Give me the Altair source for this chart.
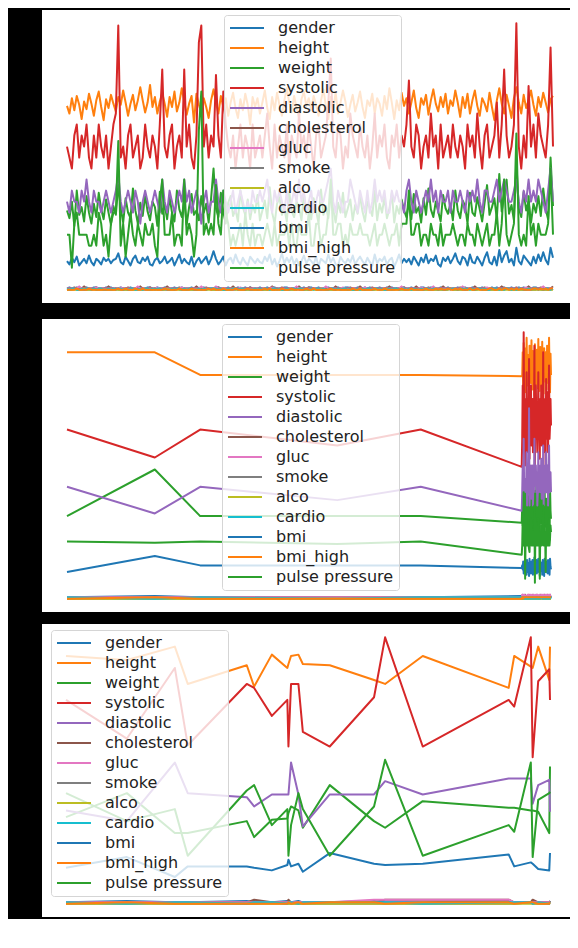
import altair as alt
import pandas as pd

names = ["gender", "height", "weight", "systolic", "diastolic", "cholesterol", "gluc",
         "smoke", "alco", "cardio", "bmi", "bmi_high", "pulse pressure"]
colors = ["#1f77b4", "#ff7f0e", "#2ca02c", "#d62728", "#9467bd", "#8c564b", "#e377c2",
          "#7f7f7f", "#bcbd22", "#17becf", "#1f77b4", "#ff7f0e", "#2ca02c"]


def digits(s):
    return [int(c) for c in "".join(s.split())]


# ---------------- panel 1 (200 consecutive rows) ----------------
height1 = [
    167, 160, 174, 163, 176, 168, 155, 171, 164, 178, 169, 158, 172, 180, 166, 154, 173, 165, 177, 169,
    162, 175, 168, 181, 170, 158, 169, 177, 163, 172, 184, 172, 161, 170, 186, 166, 175, 160, 171, 179,
    169, 157, 175, 166, 180, 162, 170, 183, 171, 159, 169, 176, 152, 178, 168, 161, 174, 166, 156, 172,
    182, 170, 160, 176, 166, 174, 158, 170, 179, 165, 156, 173, 163, 178, 168, 150, 175, 166, 174, 160,
    170, 181, 165, 155, 175, 163, 179, 168, 158, 172, 183, 170, 161, 176, 165, 156, 173, 180, 167, 174,
    163, 176, 168, 158, 172, 182, 167, 155, 175, 164, 179, 160, 170, 181, 171, 157, 168, 177, 162, 170,
    180, 166, 156, 172, 167, 178, 160, 174, 169, 158, 176, 164, 183, 170, 155, 172, 163, 179, 167, 174,
    160, 170, 181, 165, 156, 174, 168, 177, 159, 172, 182, 169, 162, 175, 166, 178, 160, 172, 167, 181,
    170, 157, 175, 165, 178, 160, 172, 181, 167, 158, 174, 169, 162, 179, 166, 154, 172, 183, 169, 160,
    177, 167, 156, 174, 184, 170, 160, 177, 165, 172, 181, 168, 158, 175, 166, 179, 170, 161, 173, 176]
systolic1 = [
    130, 120, 110, 140, 150, 120, 140, 130, 150, 120, 110, 140, 120, 150, 130, 120, 140, 110, 130, 150,
    160, 240, 120, 130, 110, 140, 150, 120, 130, 140, 110, 120, 150, 130, 120, 140, 130, 110, 150, 200,
    130, 120, 140, 150, 110, 130, 140, 120, 200, 130, 150, 120, 110, 140, 225, 240, 130, 150, 120, 140,
    130, 195, 140, 120, 180, 150, 130, 120, 140, 110, 130, 150, 120, 140, 130, 110, 150, 120, 130, 140,
    120, 140, 160, 130, 110, 150, 120, 140, 130, 120, 150, 110, 140, 130, 120, 160, 130, 140, 120, 150,
    130, 110, 140, 150, 120, 130, 140, 170, 210, 130, 120, 150, 140, 110, 130, 120, 160, 140, 130, 120,
    150, 130, 120, 140, 110, 130, 160, 120, 140, 130, 150, 120, 110, 140, 130, 150, 120, 140, 130, 150,
    190, 130, 120, 150, 140, 110, 130, 140, 120, 160, 130, 140, 110, 150, 120, 130, 140, 120, 150, 130,
    120, 140, 130, 110, 150, 130, 140, 120, 160, 130, 110, 140, 150, 120, 130, 140, 170, 120, 150, 200,
    140, 120, 130, 150, 242, 130, 110, 140, 120, 185, 130, 150, 120, 160, 140, 130, 120, 150, 220, 130]
diastolic1 = [
    80, 70, 90, 80, 80, 70, 90, 80, 100, 80, 70, 90, 80, 80, 70, 80, 90, 80, 70, 80,
    90, 105, 80, 70, 80, 90, 80, 70, 90, 80, 60, 80, 90, 80, 70, 80, 90, 80, 70, 100,
    80, 70, 90, 80, 70, 80, 90, 80, 100, 80, 90, 70, 80, 90, 80, 60, 80, 90, 70, 80,
    80, 100, 80, 70, 90, 80, 70, 80, 90, 70, 80, 90, 80, 70, 80, 70, 90, 80, 80, 90,
    80, 90, 100, 80, 70, 90, 80, 90, 80, 70, 90, 70, 80, 90, 80, 100, 80, 90, 70, 80,
    90, 70, 80, 90, 80, 80, 90, 100, 110, 80, 70, 90, 80, 70, 80, 80, 100, 90, 80, 70,
    90, 80, 70, 90, 70, 80, 100, 80, 90, 80, 90, 70, 70, 90, 80, 90, 80, 80, 70, 90,
    100, 80, 70, 90, 80, 70, 80, 90, 80, 100, 80, 90, 70, 90, 80, 80, 90, 70, 90, 80,
    80, 90, 80, 70, 90, 80, 90, 80, 100, 80, 70, 90, 90, 80, 80, 90, 100, 80, 90, 100,
    90, 80, 80, 90, 100, 80, 70, 90, 80, 100, 80, 90, 80, 100, 90, 80, 70, 90, 110, 80]
pulse1 = [
    50, 50, 20, 60, 70, 50, 50, 50, 50, 40, 40, 50, 40, 70, 60, 40, 50, 30, 60, 70,
    70, 135, 40, 60, 30, 50, 70, 50, 40, 60, 50, 40, 60, 50, 50, 60, 40, 30, 80, 100,
    50, 50, 50, 70, 40, 50, 50, 40, 100, 50, 60, 50, 30, 50, 145, 180, 50, 60, 50, 60,
    50, 95, 60, 50, 90, 70, 60, 40, 50, 40, 50, 60, 40, 70, 50, 40, 60, 40, 50, 50,
    40, 50, 60, 50, 40, 60, 40, 50, 50, 50, 60, 40, 60, 40, 40, 60, 50, 50, 50, 70,
    40, 40, 60, 60, 40, 50, 50, 70, 100, 50, 50, 60, 60, 40, 50, 40, 60, 50, 50, 50,
    60, 50, 50, 50, 40, 50, 60, 40, 50, 50, 60, 50, 40, 50, 50, 60, 40, 60, 60, 60,
    90, 50, 50, 60, 60, 40, 50, 50, 40, 60, 50, 50, 40, 60, 40, 50, 50, 50, 60, 50,
    40, 50, 50, 40, 60, 50, 50, 40, 60, 50, 40, 50, 60, 40, 50, 50, 70, 40, 60, 100,
    50, 40, 50, 60, 142, 50, 40, 50, 40, 85, 50, 60, 40, 60, 50, 50, 50, 60, 110, 50]
weight1 = [
    72, 65, 80, 58, 90, 68, 75, 62, 85, 70, 60, 78, 66, 88, 73, 64, 82, 70, 59, 76,
    68, 95, 74, 61, 83, 70, 65, 92, 72, 60, 79, 67, 86, 71, 63, 80, 75, 58, 89, 69,
    77, 64, 84, 70, 62, 90, 73, 66, 81, 59, 75, 87, 68, 72, 63, 85, 70, 78, 61, 83,
    110, 74, 66, 88, 71, 60, 79, 85, 67, 73, 62, 90, 75, 68, 82, 64, 77, 70, 86, 63,
    72, 81, 65, 93, 70, 60, 78, 84, 68, 74, 62, 89, 71, 66, 80, 75, 63, 87, 69, 77,
    64, 83, 72, 60, 91, 68, 76, 65, 86, 73, 61, 79, 70, 88, 66, 74, 82, 63, 77, 69,
    85, 71, 62, 80, 74, 67, 90, 63, 78, 70, 84, 65, 73, 88, 61, 76, 69, 82, 72, 66,
    79, 64, 87, 70, 75, 61, 83, 68, 92, 73, 66, 80, 71, 62, 86, 74, 69, 78, 63, 90,
    72, 65, 81, 76, 60, 88, 70, 67, 84, 73, 62, 79, 95, 68, 75, 83, 64, 105, 71, 86,
    100, 69, 77, 63, 115, 74, 66, 89, 72, 80, 61, 78, 70, 85, 67, 92, 73, 64, 120, 76]
bmi1 = [
    26, 23, 29, 25, 30, 22, 25, 28, 24, 31, 25, 22, 28, 26, 23, 29, 26, 28, 24, 27,
    28, 33, 25, 23, 30, 26, 22, 28, 31, 25, 24, 29, 26, 30, 23, 22, 27, 29, 24, 26,
    30, 24, 26, 29, 22, 27, 32, 24, 28, 25, 23, 30, 21, 26, 29, 24, 27, 30, 23, 28,
    35, 28, 23, 26, 30, 22, 27, 29, 24, 32, 26, 23, 29, 25, 22, 30, 27, 24, 28, 25,
    24, 30, 26, 32, 23, 28, 21, 26, 33, 24, 29, 25, 30, 23, 28, 22, 26, 31, 24, 28,
    26, 23, 30, 21, 28, 26, 24, 32, 25, 29, 23, 22, 30, 26, 24, 28, 25, 31, 23, 27,
    30, 26, 23, 29, 25, 22, 32, 24, 28, 26, 30, 23, 27, 29, 21, 26, 32, 24, 28, 25,
    28, 23, 30, 26, 22, 29, 25, 32, 24, 28, 26, 31, 23, 21, 29, 26, 30, 24, 28, 33,
    26, 23, 30, 28, 22, 32, 25, 24, 30, 26, 22, 29, 34, 25, 23, 30, 22, 36, 25, 31,
    35, 25, 28, 22, 38, 26, 23, 31, 28, 25, 22, 30, 24, 32, 26, 34, 27, 23, 38, 29]
gender1 = digits("""12112111211221112121 11211121121112211211 21112112111212112111 12211121112112121112
 11211211122111211212 21121112111211221112 11212111211212111221 12111221121112112111
 21121121112111212112 11211212111221121111""")
cholesterol1 = digits("""11121113111121111311 11111211113111211111 13111121111113111211 11211111311111121111
 11113111211111131112 11111121113111112111 31111211111131111121 11131111211111311111
 12111113111211111131 11112111131111211113""")
gluc1 = digits("""11111311111121111111 11211111131111111211 11111112111111131111 13111111111211111111
 11112111111111311111 11111131111112111111 11211111111111111311 11111211113111111111
 11311111111121111111 11111111211111131111""")
smoke1 = digits("""00010000000100000000 10000000010000001000 00000100000000000010 00100000001000000000
 00000010000000100000 01000000000100000000 00000001000000010000 00010000000000000100
 00000100010000000000 10000000000001000001""")
alco1 = digits("""00000001000000000000 00000000000010000000 01000000000000000000 00000000100000000000
 00000000000000010000 00001000000000000000 00000000000100000000 00000000000000000100
 00010000000000000000 00000000010000000000""")
cardio1 = digits("""10110010110101100101 01101011001011010110 10010110101100101011 11010010110110100101
 01101101001011011010 10110100110101101001 01011011010010110110 10100101101101001011
 01101010110100111010 11010110010110101101""")
bmi_high1 = digits("""00001000010000000000 01001000100100000000 10000010000100000010 10001000010000100000
 01010000100010000010 01000000100000000100 10000010001000000100 01000001000101001001
 01000100100001100101 10101010000110101011""")
x1 = list(range(len(height1)))

# ---------------- panel 2 (6 scattered ids, then a dense block) ----------------
x2_sparse = [0, 180, 273, 554, 725, 932]
x2_dense = list(range(933, 993))
height2 = [185, 185, 168, 168, 168, 167,
           167, 185, 158, 192, 170, 180, 155, 188, 165, 196,
           172, 160, 183, 175, 152, 190, 168, 178, 162, 194,
           171, 157, 186, 166, 179, 153, 191, 169, 176, 161,
           187, 173, 158, 195, 164, 181, 156, 189, 170, 174,
           159, 193, 167, 182, 154, 188, 172, 163, 185, 177,
           157, 190, 168, 180, 162, 196, 171, 155, 184, 168]
systolic2 = [127, 106, 127, 115, 127, 99,
             120, 160, 110, 200, 130, 150, 100, 140, 120, 170,
             110, 130, 150, 120, 180, 105, 140, 125, 160, 115,
             130, 150, 110, 140, 120, 190, 100, 135, 160, 120,
             145, 110, 130, 170, 120, 140, 105, 150, 125, 160,
             115, 140, 130, 185, 110, 150, 120, 140, 100, 165,
             130, 120, 155, 110, 140, 175, 120, 130, 150, 130]
diastolic2 = [84, 64, 84, 74, 84, 66,
              80, 100, 70, 120, 80, 90, 85, 90, 80, 110,
              70, 85, 95, 80, 143, 70, 90, 80, 100, 75,
              80, 100, 70, 90, 80, 120, 88, 85, 100, 80,
              95, 70, 80, 110, 80, 90, 90, 100, 80, 105,
              75, 90, 85, 115, 70, 100, 80, 90, 80, 110,
              85, 80, 100, 70, 90, 115, 80, 85, 95, 80]
pulse2 = [43, 42, 43, 41, 43, 33,
          40, 60, 40, 80, 50, 60, 15, 50, 40, 60,
          40, 45, 55, 40, 37, 35, 50, 45, 60, 40,
          50, 50, 40, 50, 40, 70, 12, 50, 60, 40,
          50, 40, 50, 60, 40, 50, 15, 50, 45, 55,
          40, 50, 45, 70, 40, 50, 40, 50, 20, 55,
          45, 40, 55, 40, 50, 60, 40, 45, 55, 50]
weight2 = [62, 97, 62, 62, 62, 57,
           70, 55, 82, 48, 75, 62, 86, 58, 73, 45,
           80, 52, 68, 77, 43, 85, 60, 72, 50, 79,
           65, 83, 47, 74, 58, 81, 53, 70, 62, 86,
           49, 76, 64, 84, 55, 71, 45, 80, 67, 57,
           78, 50, 85, 61, 73, 46, 82, 59, 69, 54,
           75, 63, 48, 81, 57, 72, 44, 84, 66, 60]
bmi2 = [20, 32, 25, 25, 25, 23,
        25, 22, 28, 19, 26, 23, 30, 21, 27, 18,
        29, 20, 24, 27, 17, 30, 22, 26, 19, 28,
        23, 29, 18, 25, 21, 31, 20, 27, 24, 29,
        19, 26, 23, 30, 20, 25, 17, 28, 24, 21,
        27, 18, 29, 22, 26, 17, 30, 21, 25, 20,
        28, 23, 19, 29, 21, 26, 18, 30, 24, 22]
gender2 = digits("121112 1211212112 1121121211 2112112112 1211211211 2112121121 1211211212")
cholesterol2 = digits("111111 1312113111 2111311121 1131112111 3111211131 1121113111 2131111311")
gluc2 = digits("111111 3131131211 1313111311 3111311131 1311131113 1131311131 3111311311")
smoke2 = digits("000000 0100000010 0000100000 0100000001 0000010000 1000000100 0001000000")
alco2 = digits("000000 0000100000 0000000010 0000000000 0100000000 0000001000 0000000000")
cardio2 = digits("101011 1011010110 0110101101 1010110101 0110101011 1101011010 1011010110")
bmi_high2 = digits("010000 1101111111 1111111111 1111111111 1111111111 1111111111 1111111111")
x2 = x2_sparse + x2_dense

# ---------------- panel 3 (23 scattered ids) ----------------
x3 = [180, 345, 475, 510, 670, 690, 738, 780, 783, 790, 810, 822, 895, 1015, 1045,
      1147, 1380, 1395, 1440, 1445, 1460, 1490, 1492]
height3 = [186, 183, 193, 165, 179, 163, 187, 177, 180, 186, 187, 180, 179, 168, 165,
           186, 162, 186, 178, 177, 193, 168, 193]
systolic3 = [153, 124, 177, 119, 165, 162, 141, 153, 118, 165, 165, 129, 118, 155, 200,
             118, 153, 148, 200, 110, 167, 176, 153]
diastolic3 = [70, 62, 106, 83, 80, 73, 82, 82, 82, 106, 82, 58, 82, 82, 92,
              82, 94, 94, 94, 75, 89, 93, 69]
pulse3 = [83, 62, 71, 36, 85, 89, 59, 71, 36, 59, 83, 71, 36, 73, 108,
          36, 59, 54, 106, 35, 78, 83, 84]
weight3 = [65, 83, 53, 53, 62, 50, 63, 64, 68, 73, 70, 57, 89, 62, 57,
           77, 72, 72, 70, 70, 69, 53, 103]
bmi3 = [27, 35, 20, 28, 28, 27, 25, 29, 33, 28, 30, 24, 38, 30, 29,
        30, 37, 28, 31, 30, 26, 25, 38]
gender3 = [1, 2, 1, 1, 2, 1, 1, 2, 1, 1, 2, 1, 1, 2, 1, 1, 2, 1, 1, 2, 1, 1, 2]
cholesterol3 = [1, 1, 1, 1, 1, 3, 1, 1, 3, 1, 1, 1, 1, 1, 3, 3, 3, 1, 1, 3, 1, 1, 2]
gluc3 = [1, 1, 1, 1, 1, 1, 1, 1, 1, 1, 1, 1, 1, 3, 3, 3, 3, 1, 1, 1, 1, 1, 1]
smoke3 = [0, 0, 0, 0, 0, 0, 1, 0, 0, 0, 0, 0, 0, 0, 0, 0, 0, 0, 1, 0, 0, 0, 0]
alco3 = [0, 0, 0, 0, 0, 0, 0, 0, 0, 0, 0, 0, 0, 0, 0, 0, 0, 0, 0, 0, 0, 0, 0]
cardio3 = [1, 0, 1, 1, 0, 1, 1, 0, 1, 1, 0, 1, 1, 1, 1, 0, 1, 1, 1, 0, 1, 0, 1]
bmi_high3 = [0, 1, 0, 0, 0, 0, 0, 0, 1, 0, 1, 0, 1, 1, 0, 1, 1, 0, 1, 1, 0, 0, 1]


def long_df(x, cols):
    rows = []
    for k, name in enumerate(names):
        for xi, v in zip(x, cols[k]):
            rows.append({"x": xi, "series": name, "value": v})
    return pd.DataFrame(rows)


df1 = long_df(x1, [gender1, height1, weight1, systolic1, diastolic1, cholesterol1, gluc1,
                   smoke1, alco1, cardio1, bmi1, bmi_high1, pulse1])
df2 = long_df(x2, [gender2, height2, weight2, systolic2, diastolic2, cholesterol2, gluc2,
                   smoke2, alco2, cardio2, bmi2, bmi_high2, pulse2])
df3 = long_df(x3, [gender3, height3, weight3, systolic3, diastolic3, cholesterol3, gluc3,
                   smoke3, alco3, cardio3, bmi3, bmi_high3, pulse3])

PW, PH = 528, 293  # plot area of one panel


def panel(df, x, first_px, last_px, lx, ly):
    # x domain chosen so that the first / last row sit where the reference puts them
    per_px = (max(x) - min(x)) / (last_px - first_px)
    xd = [min(x) - first_px * per_px, max(x) + (PW - last_px) * per_px]
    ymax = float(df["value"].max())
    yd = [-0.05 * ymax, 1.05 * ymax]
    return alt.Chart(df).mark_line(strokeWidth=2, strokeJoin="round").encode(
        x=alt.X("x:Q", scale=alt.Scale(domain=xd, nice=False, zero=False), axis=None),
        y=alt.Y("value:Q", scale=alt.Scale(domain=yd, nice=False, zero=False), axis=None),
        color=alt.Color(
            "series:N", sort=names,
            scale=alt.Scale(domain=names, range=colors),
            legend=alt.Legend(
                orient="none", legendX=lx, legendY=ly, title=None,
                symbolType="stroke", symbolSize=1156, symbolStrokeWidth=2,
                clipHeight=16,
                labelFont="DejaVu Sans", labelFontSize=16, labelColor="#222222",
                labelOffset=13, rowPadding=4, padding=5,
                fillColor="rgba(255,255,255,0.8)", strokeColor="#d5d5d5",
                cornerRadius=3,
            ),
        ),
    ).properties(width=PW, height=PH)


p1 = panel(df1, x1, 25, 511, 182, 5)
p2 = panel(df2, x2, 25, 509, 180, 5)
p3 = panel(df3, x3, 24, 508, 9, 6)

inner = alt.vconcat(p2, p3, spacing=12, bounds="flush").resolve_scale(
    color="independent", x="independent", y="independent").resolve_legend(color="independent")
chart = alt.vconcat(p1, inner, spacing=16, bounds="flush").resolve_scale(
    color="independent", x="independent", y="independent").resolve_legend(color="independent")

chart = chart.properties(
    background="black",
    padding={"left": 34, "top": 2, "right": 0, "bottom": 2},
).configure_view(fill="white", strokeWidth=0)

chart.save("out.html", embed_options={"renderer": "svg", "actions": False})
